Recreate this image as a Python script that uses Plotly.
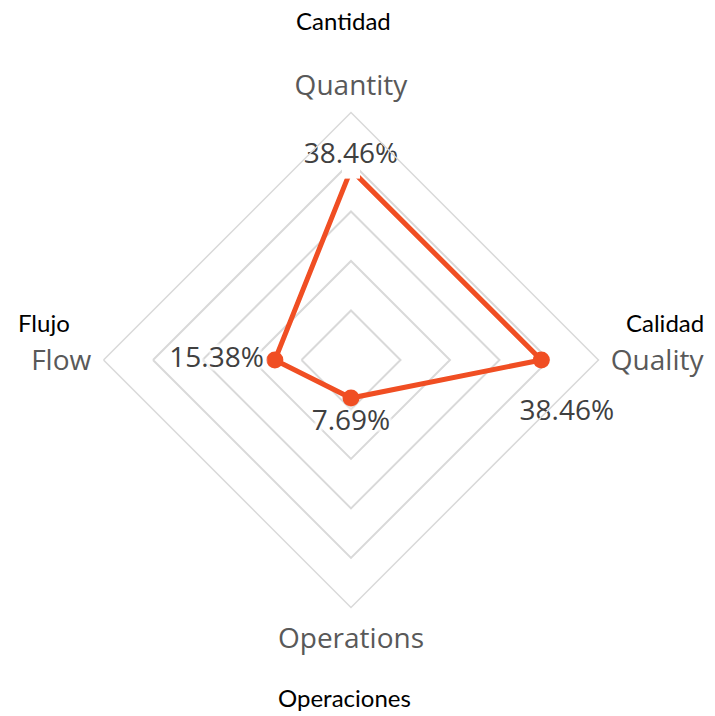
import plotly.graph_objects as go

categories = ["Quantity", "Quality", "Operations", "Flow"]
spanish_labels = ["Cantidad", "Calidad", "Operaciones", "Flujo"]
values = [38.46, 38.46, 7.69, 15.38]
value_labels = ["38.46%", "38.46%", "7.69%", "15.38%"]
radial_ticks = [10, 20, 30, 40, 50]

ORANGE = "#F04E23"
GRID = "#d9d9d9"

# close the polygon
r_closed = values + values[:1]
theta_closed = categories + categories[:1]

fig = go.Figure()
fig.add_trace(go.Scatterpolar(
    r=r_closed, theta=theta_closed, mode="lines+markers",
    line=dict(color=ORANGE, width=5),
    marker=dict(color=ORANGE, size=17, line=dict(width=0)),
    hoverinfo="skip", showlegend=False,
))

# white label backing that hides the top vertex (as the label box does in the original)
backing = [18, 0, 0, 0]
fig.add_trace(go.Scatterpolar(
    r=values, theta=categories, mode="markers",
    marker=dict(symbol="square", size=backing, color="white", opacity=1,
                line=dict(width=0)),
    hoverinfo="skip", showlegend=False,
))

# value labels (transparent marker sizes only set the text offset from each point)
text_positions = ["top center", "bottom center", "bottom center", "middle left"]
label_gap = [0, 2, 16, 16]
texts = [value_labels[0],
         "\u00a0<br>" + "\u00a0" * 7 + value_labels[1],
         value_labels[2],
         value_labels[3]]
halo = ", ".join(["0 0 5px white"] * 12)
fig.add_trace(go.Scatterpolar(
    r=values, theta=categories, mode="markers+text",
    marker=dict(size=label_gap, color="rgba(0,0,0,0)", line=dict(width=0)),
    text=texts, textposition=text_positions,
    textfont=dict(family="Open Sans", size=28, color="#404040", shadow=halo),
    hoverinfo="skip", showlegend=False,
))

fig.update_layout(
    width=715, height=716,
    margin=dict(l=0, r=0, t=0, b=0),
    paper_bgcolor="white",
    plot_bgcolor="white",
    polar=dict(
        domain=dict(x=[0.1448, 0.837], y=[0.1515, 0.843]),
        bgcolor="white",
        gridshape="linear",
        radialaxis=dict(range=[0, 50], tickvals=radial_ticks, showticklabels=False,
                        ticks="", showline=False, gridcolor=GRID, gridwidth=1.5),
        angularaxis=dict(rotation=90, direction="clockwise", categoryorder="array",
                         categoryarray=categories, showgrid=False, showline=True,
                         linecolor=GRID, linewidth=1.5,
                         ticks="outside", ticklen=6, tickcolor="rgba(0,0,0,0)",
                         tickfont=dict(family="Open Sans", size=28, color="#595959")),
    ),
)

ann_pos = {
    "Cantidad": (0.481, 0.971, "center"),
    "Calidad": (0.988, 0.549, "right"),
    "Operaciones": (0.4825, 0.0265, "center"),
    "Flujo": (0.022, 0.55, "left"),
}
for lbl in spanish_labels:
    x, y, anc = ann_pos[lbl]
    fig.add_annotation(x=x, y=y, xref="paper", yref="paper", text=lbl, showarrow=False,
                       xanchor=anc, yanchor="middle",
                       font=dict(family="Lato", size=24, color="black"))

fig.write_html("out.html", config={"displayModeBar": False},
               post_script="document.body.style.margin='0';document.body.style.overflow='hidden';")
